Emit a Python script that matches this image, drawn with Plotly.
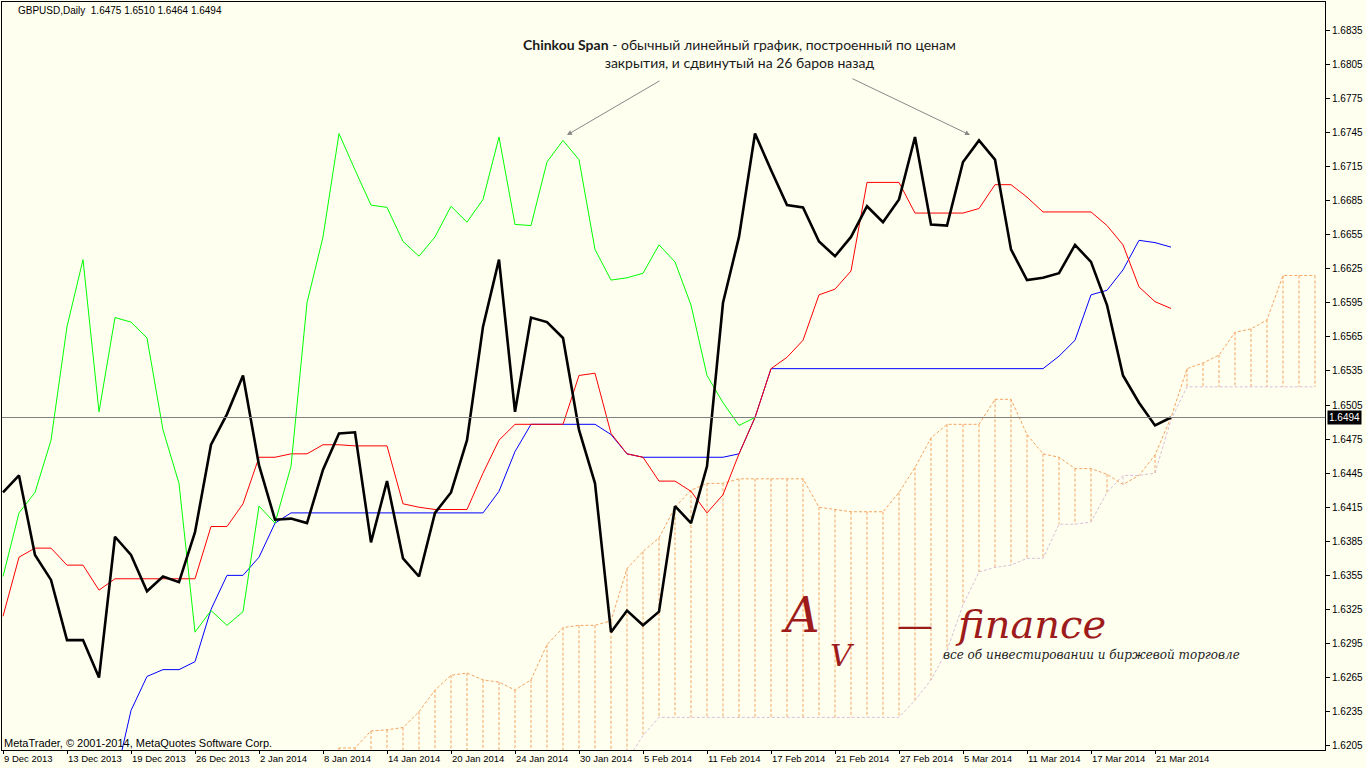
import plotly.graph_objects as go

# ---------------- data ----------------
close = [1.6428, 1.6443, 1.6373, 1.6351, 1.6298, 1.6298, 1.6265, 1.6389, 1.6373, 1.6341,
         1.6354, 1.6349, 1.6393, 1.6470, 1.6497, 1.6531, 1.6452, 1.6404, 1.6405, 1.6401,
         1.6448, 1.6480, 1.6481, 1.6384, 1.6438, 1.6370, 1.6354, 1.6410, 1.6428, 1.6474,
         1.6574, 1.6633, 1.6499, 1.6582, 1.6578, 1.6564, 1.6483, 1.6436, 1.6305, 1.6324,
         1.6311, 1.6323, 1.6416, 1.6401, 1.6451, 1.6595, 1.6653, 1.6744, 1.6712, 1.6681,
         1.6679, 1.6649, 1.6636, 1.6653, 1.6680, 1.6666, 1.6686, 1.6741, 1.6664, 1.6663,
         1.6719, 1.6738, 1.6721, 1.6642, 1.6615, 1.6617, 1.6621, 1.6646, 1.6631, 1.6593,
         1.6531, 1.6507, 1.6487, 1.6494]

tenkan = [1.6319, 1.6371, 1.6379, 1.6379, 1.6364, 1.6364, 1.6342, 1.6352, 1.6352, 1.6352,
          1.6352, 1.6352, 1.6352, 1.6398, 1.6398, 1.6418, 1.6459, 1.6459, 1.6462, 1.6462,
          1.6470, 1.6470, 1.6469, 1.6469, 1.6469, 1.6418, 1.6415, 1.6413, 1.6413, 1.6413,
          1.6445, 1.6474, 1.6488, 1.6488, 1.6488, 1.6488, 1.6531, 1.6533, 1.6480, 1.6462,
          1.6459, 1.6438, 1.6438, 1.6429, 1.6410, 1.6426, 1.6462, 1.6494, 1.6537, 1.6547,
          1.6562, 1.6602, 1.6607, 1.6623, 1.6701, 1.6701, 1.6701, 1.6674, 1.6674, 1.6674,
          1.6674, 1.6678, 1.6699, 1.6699, 1.6688, 1.6675, 1.6675, 1.6675, 1.6675, 1.6663,
          1.6646, 1.6609, 1.6596, 1.6590]

kijun = [None, None, None, None, None, None, None, 1.6174, 1.6236, 1.6266,
         1.6272, 1.6272, 1.6279, 1.6325, 1.6355, 1.6355, 1.6371, 1.6401, 1.6410, 1.6410,
         1.6410, 1.6410, 1.6410, 1.6410, 1.6410, 1.6410, 1.6410, 1.6410, 1.6410, 1.6410,
         1.6410, 1.6429, 1.6464, 1.6488, 1.6488, 1.6488, 1.6488, 1.6488, 1.6479, 1.6462,
         1.6459, 1.6459, 1.6459, 1.6459, 1.6459, 1.6459, 1.6462, 1.6494, 1.6537, 1.6537,
         1.6537, 1.6537, 1.6537, 1.6537, 1.6537, 1.6537, 1.6537, 1.6537, 1.6537, 1.6537,
         1.6537, 1.6537, 1.6537, 1.6537, 1.6537, 1.6537, 1.6548, 1.6562, 1.6602, 1.6606,
         1.6624, 1.6650, 1.6648, 1.6644]

span_a = [None] * 20 + [
    1.6185, 1.6203, 1.6203, 1.6218, 1.6219, 1.6221, 1.6235, 1.6254, 1.6267, 1.6269,
    1.6263, 1.6261, 1.6254, 1.6263, 1.6294, 1.6309, 1.6311, 1.6311, 1.6315, 1.6361,
    1.6376, 1.6388, 1.6415, 1.6430, 1.6436, 1.6436, 1.6440, 1.6440, 1.6440, 1.6440,
    1.6440, 1.6415, 1.6413, 1.6411, 1.6411, 1.6411, 1.6428, 1.6450, 1.6476, 1.6488,
    1.6488, 1.6488, 1.6510, 1.6510, 1.6479, 1.6462, 1.6459, 1.6449, 1.6449, 1.6444,
    1.6435, 1.6443, 1.6461, 1.6494, 1.6537, 1.6542, 1.6549, 1.6569, 1.6572, 1.6580,
    1.6619, 1.6619, 1.6619]

span_b = [None] * 20 + [
    1.6150, 1.6150, 1.6150, 1.6150, 1.6150, 1.6150, 1.6150, 1.6150, 1.6150, 1.6150,
    1.6150, 1.6150, 1.6150, 1.6150, 1.6150, 1.6150, 1.6150, 1.6150, 1.6150, 1.6192,
    1.6214, 1.6230, 1.6230, 1.6230, 1.6230, 1.6230, 1.6230, 1.6230, 1.6230, 1.6230,
    1.6230, 1.6230, 1.6230, 1.6230, 1.6230, 1.6230, 1.6230, 1.6245, 1.6263, 1.6289,
    1.6329, 1.6358, 1.6362, 1.6364, 1.6370, 1.6370, 1.6400, 1.6400, 1.6402, 1.6428,
    1.6443, 1.6443, 1.6445, 1.6492, 1.6521, 1.6521, 1.6521, 1.6521, 1.6521, 1.6521,
    1.6521, 1.6521, 1.6521]

date_labels = ["9 Dec 2013", "13 Dec 2013", "19 Dec 2013", "26 Dec 2013", "2 Jan 2014",
               "8 Jan 2014", "14 Jan 2014", "20 Jan 2014", "24 Jan 2014", "30 Jan 2014",
               "5 Feb 2014", "11 Feb 2014", "17 Feb 2014", "21 Feb 2014", "27 Feb 2014",
               "5 Mar 2014", "11 Mar 2014", "17 Mar 2014", "21 Mar 2014"]
date_label_bars = [0, 4, 8, 12, 16, 20, 24, 28, 32, 36, 40, 44, 48, 52, 56, 60, 64, 68, 72]

price_ticks = [1.6205, 1.6235, 1.6265, 1.6295, 1.6325, 1.6355, 1.6385, 1.6415, 1.6445,
               1.6475, 1.6505, 1.6535, 1.6565, 1.6595, 1.6625, 1.6655, 1.6685, 1.6715,
               1.6745, 1.6775, 1.6805, 1.6835]

symbol_info = "GBPUSD,Daily  1.6475 1.6510 1.6464 1.6494"
last_price = 1.6494
chinkou_shift = 26

# ---------------- derived series ----------------
bars = list(range(len(close)))
chinkou = close[chinkou_shift:]
chinkou_x = list(range(len(chinkou)))
cloud_x = list(range(len(span_a)))

hx_o, hy_o, hx_t, hy_t = [], [], [], []
for i, (a, b) in enumerate(zip(span_a, span_b)):
    if a is None or b is None:
        continue
    if a >= b:
        hx_o += [i, i, None]
        hy_o += [a, b, None]
    else:
        hx_t += [i, i, None]
        hy_t += [a, b, None]

BG = "#FFFFF0"
SANDY = "#F4A460"
THISTLE = "#D8BFD8"
FONT = "Liberation Sans"

fig = go.Figure()
fig.add_trace(go.Scatter(x=hx_o, y=hy_o, mode="lines", hoverinfo="skip",
                         line=dict(color=SANDY, width=1, dash="3px,2px")))
fig.add_trace(go.Scatter(x=hx_t, y=hy_t, mode="lines", hoverinfo="skip",
                         line=dict(color=THISTLE, width=1, dash="3px,2px")))
fig.add_trace(go.Scatter(x=cloud_x, y=span_b, mode="lines", hoverinfo="skip",
                         line=dict(color=THISTLE, width=1, dash="3px,2px")))
fig.add_trace(go.Scatter(x=cloud_x, y=span_a, mode="lines", hoverinfo="skip",
                         line=dict(color=SANDY, width=1, dash="3px,2px")))
fig.add_trace(go.Scatter(x=bars, y=kijun, mode="lines", line=dict(color="#0000FF", width=1)))
fig.add_trace(go.Scatter(x=bars, y=tenkan, mode="lines", line=dict(color="#FF0000", width=1)))
fig.add_trace(go.Scatter(x=chinkou_x, y=chinkou, mode="lines", line=dict(color="#00FF00", width=1)))
fig.add_trace(go.Scatter(x=bars, y=close, mode="lines", line=dict(color="#000000", width=2.6)))

W, H = 1366, 768
L, R, T, B = 2, 41, 2, 18
PW, PH = W - L - R, H - T - B


def px(x):
    return (x - L) / PW


def py(y):
    return (H - B - y) / PH


fig.add_shape(type="line", xref="paper", x0=0, x1=1, yref="y", y0=last_price, y1=last_price,
              line=dict(color="#808080", width=1))

ann = []
ann.append(dict(text=symbol_info, x=px(16), y=py(10), xref="paper", yref="paper",
                xanchor="left", yanchor="middle", showarrow=False,
                font=dict(family=FONT, size=10, color="#000")))
ann.append(dict(text="MetaTrader, © 2001-2014, MetaQuotes Software Corp.", x=px(2), y=py(743),
                xref="paper", yref="paper", xanchor="left", yanchor="middle", showarrow=False,
                font=dict(family=FONT, size=11, color="#000")))
ann.append(dict(text=f"{last_price:.4f}", x=1, y=last_price, xref="paper", yref="y",
                xanchor="left", yanchor="middle", xshift=2, showarrow=False, bgcolor="#000000",
                borderpad=1, font=dict(family=FONT, size=10, color="#FFFFFF")))
ann.append(dict(text="<b>Chinkou Span</b> - обычный линейный график, построенный по ценам<br>"
                     "закрытия, и сдвинутый на 26 баров назад",
                x=px(740), y=py(53), xref="paper", yref="paper", xanchor="center", yanchor="middle",
                align="center", showarrow=False,
                font=dict(family="Lato", size=14, color="#1a1a1a")))
for hx, hy, tx, ty in [(567, 135, 661, 80), (970, 135, 851, 78)]:
    ann.append(dict(text="", x=px(hx), y=py(hy), xref="paper", yref="paper",
                    ax=tx - hx, ay=ty - hy, axref="pixel", ayref="pixel", showarrow=True,
                    arrowhead=2, arrowsize=1, arrowwidth=1, arrowcolor="#888888"))
# logo
logo_red = "#9E1B1B"
ann.append(dict(text="A", x=px(800), y=py(615), xref="paper", yref="paper",
                xanchor="center", yanchor="middle",
                showarrow=False, font=dict(family="DejaVu Serif", size=48, color=logo_red, style="italic")))
ann.append(dict(text="V", x=px(842), y=py(655), xref="paper", yref="paper",
                xanchor="center", yanchor="middle",
                showarrow=False, font=dict(family="DejaVu Serif", size=30, color=logo_red, style="italic")))
ann.append(dict(text="—", x=px(915), y=py(624), xref="paper", yref="paper",
                xanchor="center", yanchor="middle",
                showarrow=False, font=dict(family="DejaVu Serif", size=36, color=logo_red)))
ann.append(dict(text="finance", x=px(1030), y=py(624), xref="paper", yref="paper",
                xanchor="center", yanchor="middle",
                showarrow=False, font=dict(family="DejaVu Serif", size=40, color=logo_red, style="italic")))
ann.append(dict(text="все об инвестировании и биржевой торговле", x=px(1091), y=py(655),
                xref="paper", yref="paper", xanchor="center", yanchor="middle", showarrow=False,
                font=dict(family="DejaVu Serif", size=12, color="#222", style="italic")))

fig.update_layout(
    width=W, height=H, margin=dict(l=L, r=R, t=T, b=B, autoexpand=False),
    paper_bgcolor=BG, plot_bgcolor=BG, showlegend=False,
    annotations=ann,
    xaxis=dict(range=[-0.0625, 82.625], showgrid=False, zeroline=False, automargin=False,
               tickvals=date_label_bars, ticktext=date_labels, ticks="outside", ticklen=3,
               tickangle=0, tickcolor="#000", ticklabelposition="outside right",
               tickfont=dict(family=FONT, size=9.5, color="#000"),
               showline=True, linecolor="#000", linewidth=1, mirror=True),
    yaxis=dict(range=[1.620123, 1.685985], side="right", showgrid=False, zeroline=False,
               automargin=False,
               tickvals=price_ticks, ticktext=[f"{v:.4f}" for v in price_ticks],
               ticks="outside", ticklen=4, tickcolor="#000",
               tickfont=dict(family=FONT, size=10, color="#000"),
               showline=True, linecolor="#000", linewidth=1, mirror=True),
)

fig.write_html("out.html")
